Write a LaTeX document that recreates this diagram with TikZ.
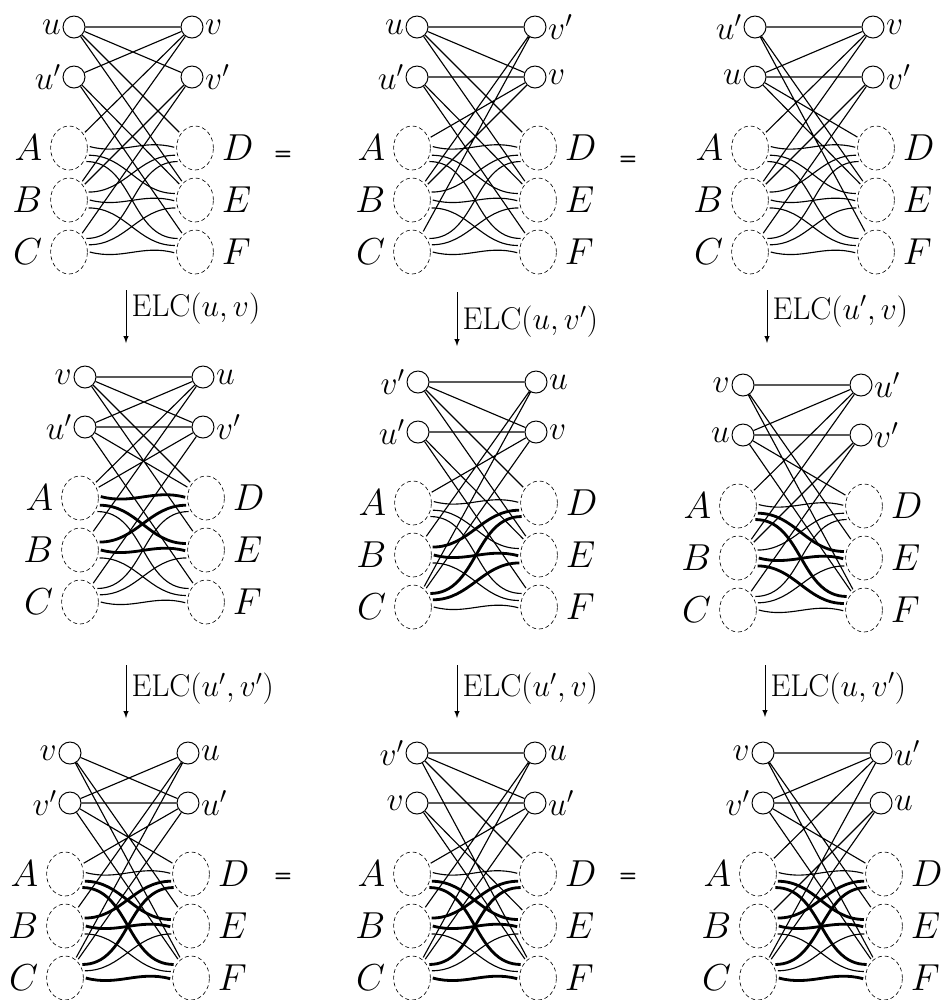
\documentclass[tikz,border=0pt]{standalone}
\usetikzlibrary{shapes.geometric}
\newcommand\setnodes{%
  \node[setn, label={[setlab]left:$A$}] (A) at (-5,121) {};
  \node[setn, label={[setlab]left:$B$}] (B) at (-5,173) {};
  \node[setn, label={[setlab]left:$C$}] (C) at (-5,225) {};
  \node[setn, label={[setlab]right:$D$}] (D) at (121,121) {};
  \node[setn, label={[setlab]right:$E$}] (E) at (121,173) {};
  \node[setn, label={[setlab]right:$F$}] (F) at (121,225) {};
}
\newcommand\setlinks[9]{%
  \draw[#1] (A.4) to[out=-15,in=165] (D.178);
  \draw[#2] (A.-20) to[out=0,in=180] (E.162);
  \draw[#3] (A.-38) to[out=0,in=180] (F.142);
  \draw[#4] (B.22) to[out=0,in=180] (D.200);
  \draw[#5] (B.0) to[out=-15,in=165] (E.182);
  \draw[#6] (B.-22) to[out=0,in=180] (F.162);
  \draw[#7] (C.38) to[out=0,in=180] (D.218);
  \draw[#8] (C.20) to[out=0,in=180] (E.202);
  \draw[#9] (C.0) to[out=-15,in=165] (F.182);
}
\begin{document}
\begin{tikzpicture}[x=0.25mm, y=-0.25mm,
    every node/.style={font=\huge},
    every label/.style={inner sep=0.3mm, scale=1.15}, label distance=0mm,
    pv/.style={circle, draw, line width=0.7pt, minimum size=5.5mm, inner sep=0pt},
    setn/.style={ellipse, draw, line width=0.45pt, dash pattern=on 1mm off 0.7mm,
      minimum width=9.2mm, minimum height=11mm, inner sep=0pt, outer sep=0.6mm},
    setlab/.style={inner sep=1.1mm, scale=1.12},
    elc/.style={scale=1.08},
    eqs/.style={font=\Large\sffamily\bfseries},
    kept/.style={line width=0.8pt},
    flipped/.style={line width=2pt},
    arr/.style={-latex, line width=0.7pt}]
  \useasboundingbox (0,0) rectangle (941,1000);

  \begin{scope}[shift={(74,27)}, name prefix=p11-]
    \node[pv, label=left:$u$] (u) at (0,0) {};
    \node[pv, label=right:$v$] (v) at (118,0) {};
    \node[pv, label=left:$u'$] (u1) at (0,50) {};
    \node[pv, label=right:$v'$] (v1) at (118,50) {};
    \setnodes
    \draw[kept] (u) -- (v) (u) -- (v1) (u1) -- (v);
    \draw[kept] (v) -- (A) (v) -- (B) (v1) -- (B) (v1) -- (C);
    \draw[kept] (u) -- (D) (u) -- (E) (u1) -- (E) (u1) -- (F);
    \setlinks{kept}{kept}{kept}{kept}{kept}{kept}{kept}{kept}{kept}
  \end{scope}

  \begin{scope}[shift={(417,27)}, name prefix=p12-]
    \node[pv, label=left:$u$] (u) at (0,0) {};
    \node[pv, label=right:$v'$] (v1) at (118,0) {};
    \node[pv, label=left:$u'$] (u1) at (0,50) {};
    \node[pv, label=right:$v$] (v) at (118,50) {};
    \setnodes
    \draw[kept] (u) -- (v) (u) -- (v1) (u1) -- (v);
    \draw[kept] (v) -- (A) (v) -- (B) (v1) -- (B) (v1) -- (C);
    \draw[kept] (u) -- (D) (u) -- (E) (u1) -- (E) (u1) -- (F);
    \setlinks{kept}{kept}{kept}{kept}{kept}{kept}{kept}{kept}{kept}
  \end{scope}

  \begin{scope}[shift={(755,27)}, name prefix=p13-]
    \node[pv, label=left:$u'$] (u1) at (0,0) {};
    \node[pv, label=right:$v$] (v) at (118,0) {};
    \node[pv, label=left:$u$] (u) at (0,50) {};
    \node[pv, label=right:$v'$] (v1) at (118,50) {};
    \setnodes
    \draw[kept] (u) -- (v) (u) -- (v1) (u1) -- (v);
    \draw[kept] (v) -- (A) (v) -- (B) (v1) -- (B) (v1) -- (C);
    \draw[kept] (u) -- (D) (u) -- (E) (u1) -- (E) (u1) -- (F);
    \setlinks{kept}{kept}{kept}{kept}{kept}{kept}{kept}{kept}{kept}
  \end{scope}

  \node[eqs] (eq1) at (283,155) {=};
  \node[eqs] (eq2) at (628,160) {=};

  \coordinate (s1) at (126,290); \coordinate (e1) at (126,343);
  \coordinate (s2) at (457,292); \coordinate (e2) at (457,346);
  \coordinate (s3) at (767,290); \coordinate (e3) at (767,343);
  \draw[arr] (s1) -- (e1) node[elc, pos=0.35, right] (t1) {$\mathrm{ELC}(u,v)$};
  \draw[arr] (s2) -- (e2) node[elc, pos=0.55, right] (t2) {$\mathrm{ELC}(u,v')$};
  \draw[arr] (s3) -- (e3) node[elc, pos=0.4, right] (t3) {$\mathrm{ELC}(u',v)$};

  \begin{scope}[shift={(85,377)}, name prefix=p21-]
    \node[pv, label=left:$v$] (v) at (0,0) {};
    \node[pv, label=right:$u$] (u) at (118,0) {};
    \node[pv, label=left:$u'$] (u1) at (0,50) {};
    \node[pv, label=right:$v'$] (v1) at (118,50) {};
    \setnodes
    \draw[kept] (v) -- (u) (v) -- (v1) (u1) -- (u) (u1) -- (v1);
    \draw[kept] (u) -- (A) (u) -- (B) (v1) -- (A) (v1) -- (C);
    \draw[kept] (v) -- (D) (v) -- (E) (u1) -- (D) (u1) -- (F);
    \setlinks{flipped}{flipped}{kept}{flipped}{flipped}{kept}{kept}{kept}{kept}
  \end{scope}

  \begin{scope}[shift={(418,382)}, name prefix=p22-]
    \node[pv, label=left:$v'$] (v1) at (0,0) {};
    \node[pv, label=right:$u$] (u) at (118,0) {};
    \node[pv, label=left:$u'$] (u1) at (0,50) {};
    \node[pv, label=right:$v$] (v) at (118,50) {};
    \setnodes
    \draw[kept] (v1) -- (u) (v1) -- (v) (u1) -- (v);
    \draw[kept] (u) -- (B) (u) -- (C) (v) -- (A) (v) -- (C);
    \draw[kept] (v1) -- (D) (v1) -- (E) (u1) -- (E) (u1) -- (F);
    \setlinks{kept}{kept}{kept}{flipped}{flipped}{kept}{flipped}{flipped}{kept}
  \end{scope}

  \begin{scope}[shift={(743,385)}, name prefix=p23-]
    \node[pv, label=left:$v$] (v) at (0,0) {};
    \node[pv, label=right:$u'$] (u1) at (118,0) {};
    \node[pv, label=left:$u$] (u) at (0,50) {};
    \node[pv, label=right:$v'$] (v1) at (118,50) {};
    \setnodes
    \draw[kept] (v) -- (u1) (u) -- (u1) (u) -- (v1);
    \draw[kept] (u1) -- (A) (u1) -- (B) (v1) -- (B) (v1) -- (C);
    \draw[kept] (v) -- (E) (v) -- (F) (u) -- (D) (u) -- (F);
    \setlinks{kept}{flipped}{flipped}{kept}{flipped}{flipped}{kept}{kept}{kept}
  \end{scope}

  \coordinate (s4) at (126,665); \coordinate (e4) at (126,718);
  \coordinate (s5) at (457,665); \coordinate (e5) at (457,718);
  \coordinate (s6) at (765,665); \coordinate (e6) at (765,717);
  \draw[arr] (s4) -- (e4) node[elc, pos=0.45, right] (t4) {$\mathrm{ELC}(u',v')$};
  \draw[arr] (s5) -- (e5) node[elc, pos=0.45, right] (t5) {$\mathrm{ELC}(u',v)$};
  \draw[arr] (s6) -- (e6) node[elc, pos=0.45, right] (t6) {$\mathrm{ELC}(u,v')$};

  \begin{scope}[shift={(70,753)}, name prefix=p31-]
    \node[pv, label=left:$v$] (v) at (0,0) {};
    \node[pv, label=right:$u$] (u) at (118,0) {};
    \node[pv, label=left:$v'$] (v1) at (0,50) {};
    \node[pv, label=right:$u'$] (u1) at (118,50) {};
    \setnodes
    \draw[kept] (v) -- (u1) (v1) -- (u) (v1) -- (u1);
    \draw[kept] (u) -- (B) (u) -- (C) (u1) -- (A) (u1) -- (C);
    \draw[kept] (v) -- (E) (v) -- (F) (v1) -- (D) (v1) -- (F);
    \setlinks{kept}{flipped}{flipped}{flipped}{flipped}{kept}{flipped}{kept}{flipped}
  \end{scope}

  \begin{scope}[shift={(417,753)}, name prefix=p32-]
    \node[pv, label=left:$v'$] (v1) at (0,0) {};
    \node[pv, label=right:$u$] (u) at (118,0) {};
    \node[pv, label=left:$v$] (v) at (0,50) {};
    \node[pv, label=right:$u'$] (u1) at (118,50) {};
    \setnodes
    \draw[kept] (v) -- (u1) (v1) -- (u) (v1) -- (u1);
    \draw[kept] (u) -- (B) (u) -- (C) (u1) -- (A) (u1) -- (C);
    \draw[kept] (v) -- (E) (v) -- (F) (v1) -- (D) (v1) -- (F);
    \setlinks{kept}{flipped}{flipped}{flipped}{flipped}{kept}{flipped}{kept}{flipped}
  \end{scope}

  \begin{scope}[shift={(763,753)}, name prefix=p33-]
    \node[pv, label=left:$v$] (v) at (0,0) {};
    \node[pv, label=right:$u'$] (u1) at (118,0) {};
    \node[pv, label=left:$v'$] (v1) at (0,50) {};
    \node[pv, label=right:$u$] (u) at (118,50) {};
    \setnodes
    \draw[kept] (v) -- (u1) (v1) -- (u) (v1) -- (u1);
    \draw[kept] (u) -- (B) (u) -- (C) (u1) -- (A) (u1) -- (C);
    \draw[kept] (v) -- (E) (v) -- (F) (v1) -- (D) (v1) -- (F);
    \setlinks{kept}{flipped}{flipped}{flipped}{flipped}{kept}{flipped}{kept}{flipped}
  \end{scope}

  \node[eqs] (eq3) at (283,877) {=};
  \node[eqs] (eq4) at (628,877) {=};
\end{tikzpicture}
\end{document}
